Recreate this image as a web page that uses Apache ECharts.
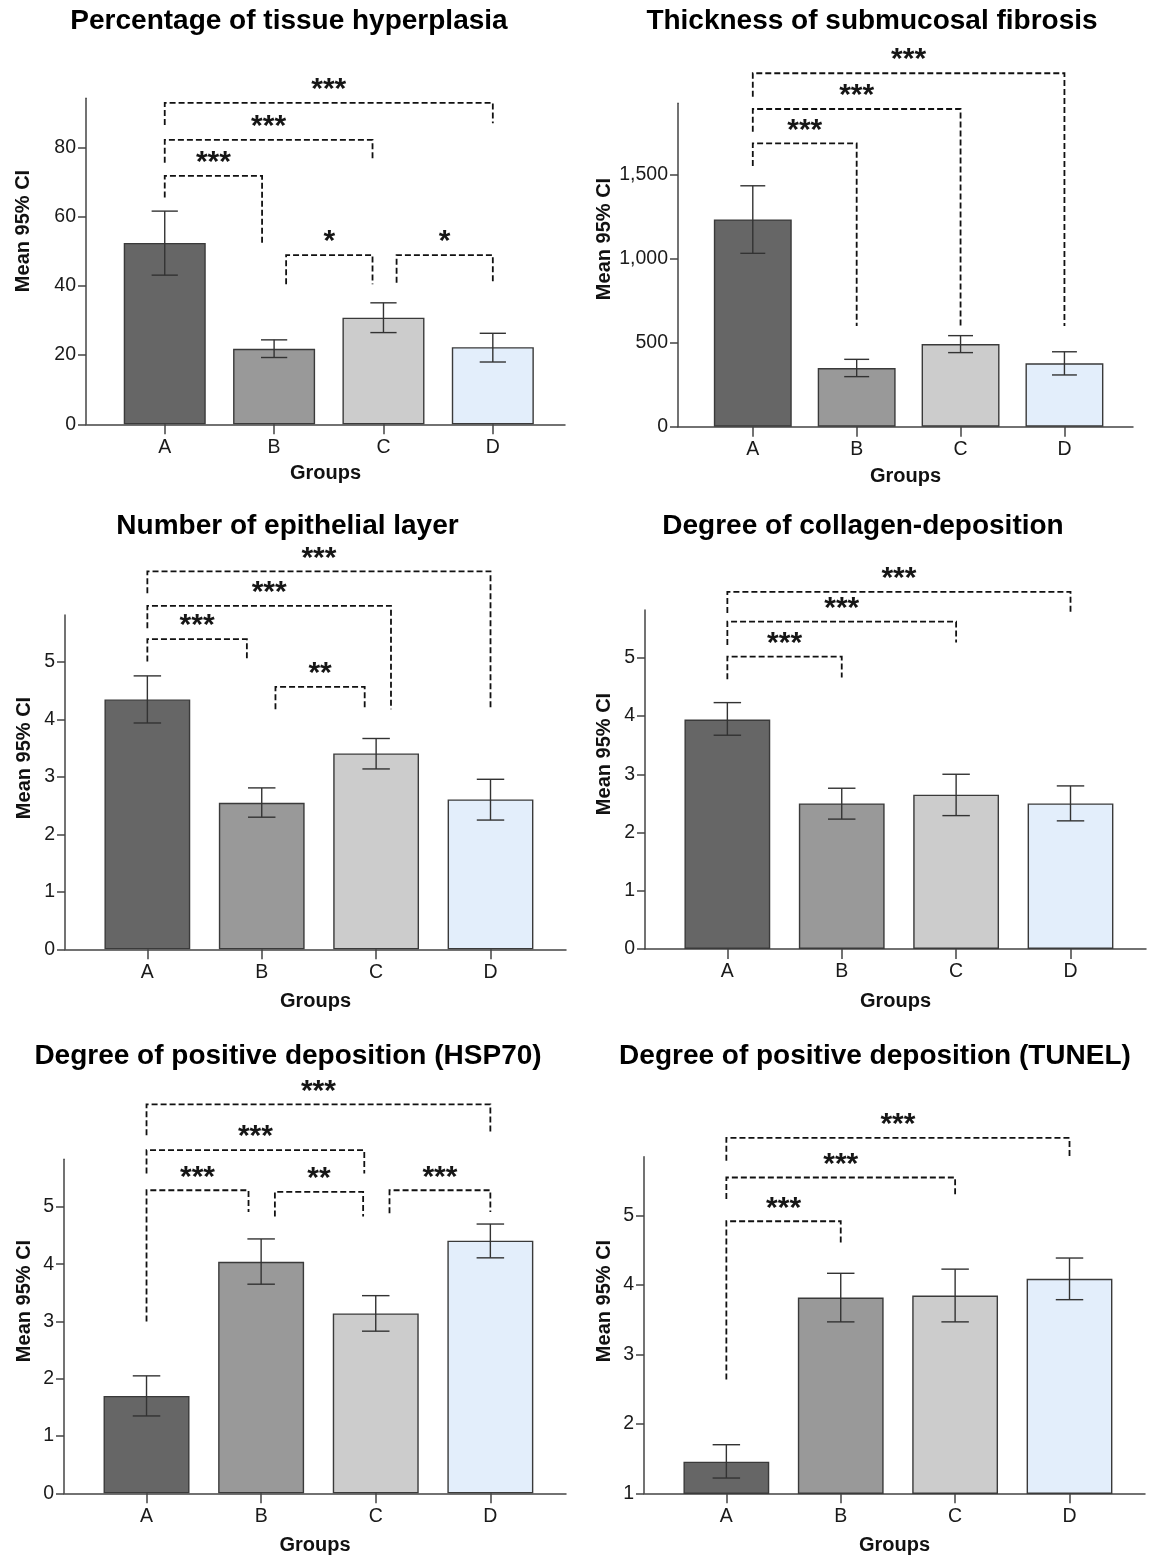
<!DOCTYPE html>
<html><head><meta charset="utf-8">
<script src="https://cdn.jsdelivr.net/npm/echarts@6/dist/echarts.min.js"></script>
<style>html,body{margin:0;padding:0;background:#fff}#c{width:1155px;height:1557px}</style>
</head><body><div id="c"></div>
<script>
// ---------- DATA ----------
const categories = ['A', 'B', 'C', 'D'];
const titles = [
  'Percentage of tissue hyperplasia',
  'Thickness of submucosal fibrosis',
  'Number of epithelial layer',
  'Degree of collagen-deposition',
  'Degree of positive deposition (HSP70)',
  'Degree of positive deposition (TUNEL)'
];
const yAxisName = 'Mean 95% CI';
const xAxisName = 'Groups';

// Panel 1: tissue hyperplasia
const hypMean = [52.4, 21.8, 30.8, 22.3];
const hypLow  = [43.1, 19.3, 26.5, 18.0];
const hypHigh = [61.6, 24.4, 35.1, 26.3];
const hypTicks = [0, 20, 40, 60, 80];
// brackets: [xFrom, xTo, yLine, yEndFrom, yEndTo]
const hypBrackets = [[0, 3, 92.9, 86.5, 87.0], [0, 1.9, 82.2, 75.6, 76.4], [0, 0.89, 71.8, 65.5, 52.3], [1.11, 1.9, 48.9, 40.5, 40.5], [2.12, 3, 48.9, 40.9, 40.9]];
const hypStars = ['***', '***', '***', '*', '*'];

// Panel 2: submucosal fibrosis
const fibMean = [1234, 349, 492, 377];
const fibLow  = [1032, 298, 441, 308];
const fibHigh = [1434, 401, 542, 446];
const fibTicks = [0, 500, 1000, 1500];
const fibBrackets = [[0, 3, 2104, 1964, 599], [0, 2, 1891, 1756, 599], [0, 1, 1687, 1552, 599]];
const fibStars = ['***', '***', '***'];

// Panel 3: epithelial layer
const epiMean = [4.35, 2.55, 3.41, 2.61];
const epiLow  = [3.94, 2.30, 3.14, 2.25];
const epiHigh = [4.76, 2.81, 3.67, 2.96];
const epiTicks = [0, 1, 2, 3, 4, 5];
const epiBrackets = [[0, 3, 6.58, 6.20, 4.18], [0, 2.13, 5.98, 5.59, 4.18], [0, 0.87, 5.40, 5.01, 5.04], [1.12, 1.9, 4.57, 4.18, 4.19]];
const epiStars = ['***', '***', '***', '**'];

// Panel 4: collagen deposition
const colMean = [3.94, 2.50, 2.65, 2.50];
const colLow  = [3.67, 2.23, 2.29, 2.20];
const colHigh = [4.23, 2.76, 3.00, 2.80];
const colTicks = [0, 1, 2, 3, 4, 5];
const colBrackets = [[0, 3, 6.13, 5.77, 5.79], [0, 2, 5.62, 5.22, 5.26], [0, 1, 5.02, 4.63, 4.66]];
const colStars = ['***', '***', '***'];

// Panel 5: HSP70
const hspMean = [1.70, 4.04, 3.14, 4.41];
const hspLow  = [1.35, 3.65, 2.83, 4.11];
const hspHigh = [2.05, 4.44, 3.45, 4.70];
const hspTicks = [0, 1, 2, 3, 4, 5];
const hspBrackets = [[0, 3, 6.79, 6.25, 6.29], [0, 1.9, 5.99, 5.58, 5.58], [0, 0.89, 5.29, 3.00, 4.91], [1.12, 1.89, 5.26, 4.83, 4.83], [2.12, 3, 5.29, 4.89, 4.91]];
const hspStars = ['***', '***', '***', '**', '***'];

// Panel 6: TUNEL
const tunMean = [1.455, 3.82, 3.85, 4.09];
const tunLow  = [1.22, 3.47, 3.47, 3.79];
const tunHigh = [1.70, 4.17, 4.23, 4.39];
const tunTicks = [1, 2, 3, 4, 5];
const tunBrackets = [[0, 3, 6.12, 5.79, 5.82], [0, 2, 5.55, 5.24, 5.27], [0, 1, 4.92, 2.64, 4.59]];
const tunStars = ['***', '***', '***'];

// ---------- LAYOUT / STYLE ----------
const FONT = '"Liberation Sans", Arial, Helvetica, sans-serif';
const barColors = ['#666666', '#999999', '#cccccc', '#e3eefb'];
const panels = [
  {mean: hypMean, low: hypLow, high: hypHigh, ticks: hypTicks, br: hypBrackets, st: hypStars, yMin: 0, yMax: 94.2,
   left: 86, top: 98.3, width: 479, height: 326, gap: 39, tx: 289, ty: 21, nx: 23, ny: 231},
  {mean: fibMean, low: fibLow, high: fibHigh, ticks: fibTicks, br: fibBrackets, st: fibStars, yMin: 0, yMax: 1925,
   left: 678, top: 103.3, width: 455, height: 323.4, gap: 40, tx: 872, ty: 21, nx: 604, ny: 239},
  {mean: epiMean, low: epiLow, high: epiHigh, ticks: epiTicks, br: epiBrackets, st: epiStars, yMin: 0, yMax: 5.82,
   left: 65, top: 615, width: 501, height: 334.3, gap: 42, tx: 287.5, ty: 526, nx: 24, ny: 758},
  {mean: colMean, low: colLow, high: colHigh, ticks: colTicks, br: colBrackets, st: colStars, yMin: 0, yMax: 5.82,
   left: 645, top: 610, width: 501, height: 339, gap: 42, tx: 863, ty: 526, nx: 604, ny: 754},
  {mean: hspMean, low: hspLow, high: hspHigh, ticks: hspTicks, br: hspBrackets, st: hspStars, yMin: 0, yMax: 5.83,
   left: 64, top: 1159.3, width: 502, height: 334, gap: 42, tx: 288, ty: 1056, nx: 24, ny: 1301},
  {mean: tunMean, low: tunLow, high: tunHigh, ticks: tunTicks, br: tunBrackets, st: tunStars, yMin: 1, yMax: 5.85,
   left: 644, top: 1156.7, width: 501, height: 336.6, gap: 42, tx: 875, ty: 1056, nx: 604, ny: 1301}
];
const X_MIN = -0.72, X_MAX = 3.66;
const AXIS_COLOR = '#444';

const grid = [], xAxis = [], yAxis = [], series = [], graphic = [];
panels.forEach((p, i) => {
  const spacing = p.width / (X_MAX - X_MIN);
  const barW = spacing * 0.75;
  const capW = spacing * 0.24;
  grid.push({left: p.left, top: p.top, width: p.width, height: p.height, containLabel: false, outerBoundsMode: 'none'});
  xAxis.push({
    type: 'value', gridIndex: i, min: X_MIN, max: X_MAX,
    axisLine: {show: true, onZero: false, lineStyle: {color: AXIS_COLOR, width: 1.5}},
    axisTick: {show: true, length: 10, customValues: [0, 1, 2, 3], lineStyle: {color: AXIS_COLOR, width: 1.5}},
    axisLabel: {customValues: [0, 1, 2, 3], formatter: v => categories[Math.round(v)], margin: 13,
      fontSize: 19.5, color: '#1a1a1a', fontFamily: FONT},
    splitLine: {show: false},
    name: xAxisName, nameLocation: 'middle', nameGap: p.gap,
    nameTextStyle: {fontWeight: 'bold', fontSize: 20, color: '#111', fontFamily: FONT}
  });
  yAxis.push({
    type: 'value', gridIndex: i, min: p.yMin, max: p.yMax,
    axisLine: {show: true, onZero: false, lineStyle: {color: AXIS_COLOR, width: 1.5}},
    axisTick: {show: true, length: 8, customValues: p.ticks, lineStyle: {color: AXIS_COLOR, width: 1.5}},
    axisLabel: {customValues: p.ticks, margin: 10, fontSize: 19.5, color: '#1a1a1a', fontFamily: FONT,
      formatter: v => Number(v).toLocaleString('en-US')},
    splitLine: {show: false}
  });
  series.push({
    type: 'bar', xAxisIndex: i, yAxisIndex: i, barWidth: barW,
    data: p.mean.map((v, j) => ({value: [j, v], itemStyle: {color: barColors[j]}})),
    itemStyle: {borderColor: '#3a3a3a', borderWidth: 1.4},
    emphasis: {disabled: true}, z: 2
  });
  series.push({
    type: 'custom', xAxisIndex: i, yAxisIndex: i, z: 3, clip: false,
    data: p.mean.map((v, j) => [j, p.low[j], p.high[j]]),
    encode: {x: 0, y: [1, 2]},
    renderItem: (params, api) => {
      const x = api.value(0);
      const lo = api.coord([x, api.value(1)]);
      const hi = api.coord([x, api.value(2)]);
      const hw = capW / 2;
      const st = {stroke: '#333', lineWidth: 1.4};
      return {type: 'group', children: [
        {type: 'line', shape: {x1: lo[0], y1: lo[1], x2: hi[0], y2: hi[1]}, style: st},
        {type: 'line', shape: {x1: lo[0] - hw, y1: lo[1], x2: lo[0] + hw, y2: lo[1]}, style: st},
        {type: 'line', shape: {x1: hi[0] - hw, y1: hi[1], x2: hi[0] + hw, y2: hi[1]}, style: st}
      ]};
    }
  });
  series.push({
    type: 'custom', xAxisIndex: i, yAxisIndex: i, z: 4, clip: false,
    data: p.br,
    encode: {x: [0, 1], y: [2, 3, 4]},
    renderItem: (params, api) => {
      const x1 = api.value(0), x2 = api.value(1), yt = api.value(2);
      const a = api.coord([x1, api.value(3)]);
      const b = api.coord([x1, yt]);
      const c = api.coord([x2, yt]);
      const d = api.coord([x2, api.value(4)]);
      return {type: 'group', children: [
        {type: 'polyline', shape: {points: [a, b, c, d]},
         style: {stroke: '#111', lineWidth: 1.8, lineDash: [6, 3], fill: null}},
        {type: 'text', style: {text: p.st[params.dataIndex], x: (b[0] + c[0]) / 2, y: b[1] - 13,
          align: 'center', verticalAlign: 'middle', font: 'bold 30px ' + FONT, fill: '#161616'}}
      ]};
    }
  });
  graphic.push({type: 'text', x: p.tx, y: p.ty, style: {text: titles[i], align: 'center', verticalAlign: 'middle',
    font: 'bold 28px ' + FONT, fill: '#000'}});
  graphic.push({type: 'text', x: p.nx, y: p.ny, rotation: Math.PI / 2,
    style: {text: yAxisName, align: 'center', verticalAlign: 'middle', font: 'bold 20px ' + FONT, fill: '#111'}});
});

const chart = echarts.init(document.getElementById('c'), null, {renderer: 'canvas'});
chart.setOption({animation: false, backgroundColor: '#fff', grid, xAxis, yAxis, series, graphic});
</script>
</body></html>
